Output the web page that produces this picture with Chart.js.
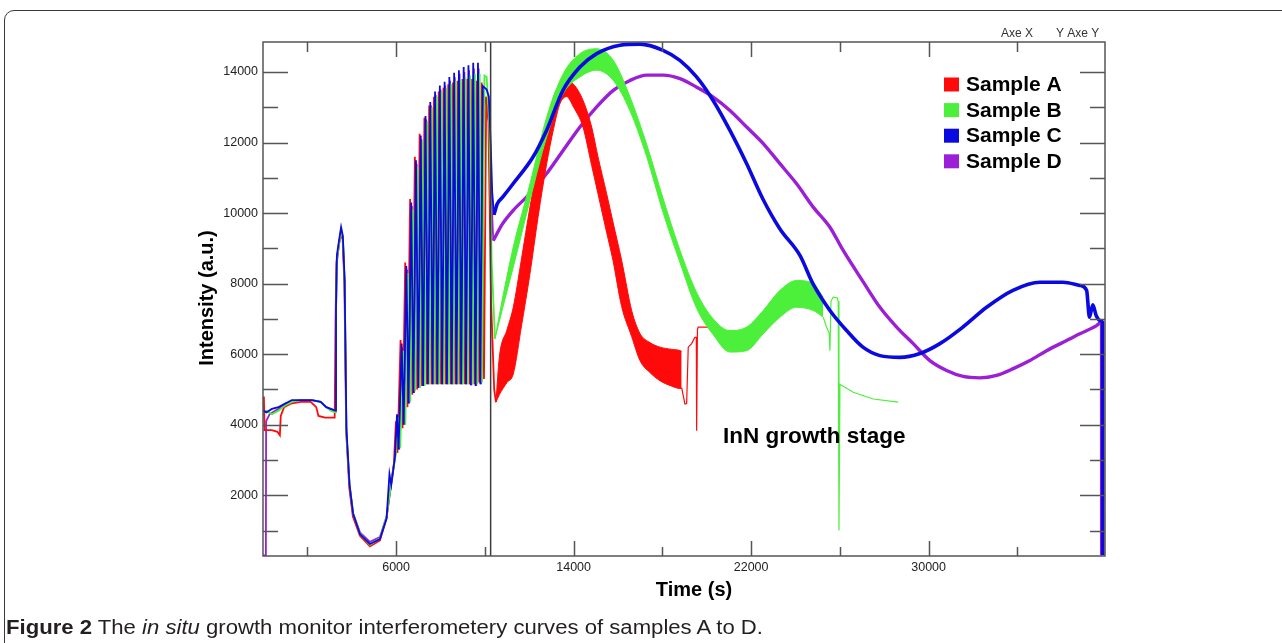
<!DOCTYPE html>
<html>
<head>
<meta charset="utf-8">
<script src="https://cdn.jsdelivr.net/npm/chart.js@4.4.1/dist/chart.umd.min.js"></script>
<style>
html, body { margin: 0; padding: 0; background: #fff; }
#wrap { position: relative; width: 1282px; height: 643px; overflow: hidden; }
#frame { position: absolute; left: 4px; top: 10px; width: 1320px; height: 700px; border: 1.5px solid #3a3a3a; border-radius: 10px; box-sizing: border-box; }
#chartBox { position: absolute; left: 0; top: 0; width: 1282px; height: 643px; }
#caption { position: absolute; left: 6px; top: 616px; font-family: "Liberation Sans Narrow", "Liberation Sans", Arial, sans-serif; font-size: 20px; color: #231f20; white-space: nowrap; transform-origin: left top; }
</style>
</head>
<body>
<div id="wrap">
  <div id="frame"></div>
  <div id="chartBox"><canvas id="chart"></canvas></div>
  <div id="caption"><b>Figure 2</b> The <i>in situ</i> growth monitor interferometery curves of samples A to D.</div>
</div>
<script>
// Подписи и цвета образцов
const sampleNames = ['Sample A', 'Sample B', 'Sample C', 'Sample D'];
const sampleColors = ['#ff0a0a', '#4cf03a', '#0a0ae0', '#9a1fd6'];

// Деления осей
const xTickValues = [2000, 6000, 10000, 14000, 18000, 22000, 26000, 30000, 34000];
const xTickLabels = ['', '6000', '', '14000', '', '22000', '', '30000', ''];
const yTickValues = [1000, 2000, 3000, 4000, 5000, 6000, 7000, 8000, 9000, 10000, 11000, 12000, 13000, 14000];
const yTickLabels = ['', '2000', '', '4000', '', '6000', '', '8000', '', '10000', '', '12000', '', '14000'];

// Граница этапа роста InN
const dividerLine = [[10260, 280], [10260, 14850]];

// Начальный участок + осцилляции (тонкие линии), [время, интенсивность]
const earlyA = [
    [0, 4300], [40, 4800], [70, 3850], [400, 3850], [650, 3800], [760, 3700], [800, 4250], [950, 4500],
    [1250, 4600], [1700, 4650], [2150, 4650], [2400, 4500], [2500, 4250], [2800, 4200], [3230, 4200],
    [3270, 7000], [3310, 8600], [3400, 9000], [3500, 9450], [3590, 9250], [3670, 8000], [3750, 3800],
    [3890, 2200], [4050, 1400], [4370, 850], [4820, 550], [5270, 720], [5570, 1350], [5760, 2300],
    [5900, 2900], [5990, 4100], [6060, 3200], [6200, 6400], [6290, 3900], [6410, 8600], [6510, 4500],
    [6630, 10400], [6730, 4850], [6845, 11600], [6950, 5000], [7060, 12250], [7165, 5100], [7275, 12700],
    [7380, 5150], [7490, 13050], [7595, 5150], [7705, 13300], [7810, 5150], [7920, 13450], [8025, 5150],
    [8135, 13550], [8240, 5150], [8350, 13650], [8455, 5150], [8565, 13700], [8670, 5150], [8780, 13750],
    [8885, 5150], [8995, 13800], [9100, 5150], [9210, 13800], [9315, 5150], [9425, 13800], [9530, 5150],
    [9640, 13750], [9745, 5200], [9855, 13700], [9960, 5300], [10060, 13300], [10160, 12600],
    [10280, 7500], [10420, 5000], [10500, 4640]
];
const earlyB = [
    [0, 4350], [150, 4400], [400, 4300], [700, 4400], [1000, 4550], [1300, 4650], [1700, 4700], [2200, 4700],
    [2600, 4650], [2850, 4500], [3050, 4400], [3260, 4350], [3290, 7200], [3330, 8700], [3420, 9100],
    [3520, 9500], [3600, 9300], [3680, 8000], [3760, 3700], [3900, 2300], [4060, 1480], [4370, 920],
    [4820, 600], [5270, 780], [5570, 1400], [5800, 2450], [5990, 3200],
    [6115, 4200], [6185, 3350], [6325, 6100], [6415, 4000], [6535, 8300], [6635, 4650],
    [6755, 10100], [6855, 4950], [6970, 11300], [7075, 5050], [7185, 12050], [7290, 5100], [7400, 12600],
    [7505, 5150], [7615, 13000], [7720, 5150], [7830, 13300], [7935, 5150], [8045, 13450], [8150, 5150],
    [8260, 13550], [8365, 5150], [8475, 13650], [8580, 5150], [8690, 13750], [8795, 5150], [8905, 13800],
    [9010, 5150], [9120, 13850], [9225, 5150], [9335, 13900], [9440, 5150], [9550, 13950], [9655, 5150],
    [9765, 13950], [9870, 5200], [9980, 13900], [10080, 13860], [10200, 12500], [10305, 8650], [10455, 6440]
];
const earlyC = [
    [0, 4400], [150, 4350], [400, 4450], [700, 4500], [1000, 4600], [1300, 4700], [1700, 4700], [2200, 4700],
    [2600, 4650], [2850, 4500], [3050, 4450], [3250, 4400], [3290, 7300], [3330, 8800], [3420, 9200],
    [3520, 9600], [3600, 9350], [3680, 8100], [3760, 3900], [3900, 2300], [4060, 1480], [4370, 900],
    [4820, 620], [5270, 760], [5570, 1350], [5700, 2600], [5780, 2300], [5950, 3100],
    [6040, 4300], [6110, 3300], [6250, 6300], [6340, 4000], [6460, 8500], [6560, 4600], [6680, 10300],
    [6780, 4900], [6895, 11500], [7000, 5050], [7110, 12200], [7215, 5100], [7325, 12750], [7430, 5150],
    [7540, 13150], [7645, 5150], [7755, 13450], [7860, 5150], [7970, 13620], [8075, 5150], [8185, 13720],
    [8290, 5150], [8400, 13860], [8505, 5150], [8615, 13980], [8720, 5150], [8830, 14050], [8935, 5150],
    [9045, 14140], [9150, 5150], [9260, 14190], [9365, 5120], [9475, 14260], [9580, 5100], [9690, 14260],
    [9795, 5150], [9905, 13600], [10080, 13500], [10180, 13300], [10260, 12000], [10330, 10600], [10410, 9950]
];
const earlyD = [
    [0, 300], [130, 300], [140, 4100], [300, 4300], [700, 4450], [1000, 4600], [1300, 4650], [1700, 4700],
    [2200, 4700], [2600, 4650], [2850, 4500], [3050, 4450], [3250, 4400], [3290, 7200], [3330, 8600],
    [3420, 9100], [3520, 9450], [3600, 9250], [3680, 8000], [3760, 3800], [3900, 2300], [4060, 1500],
    [4370, 950], [4820, 680], [5270, 820], [5570, 1400], [5800, 2400], [5970, 3150],
    [6070, 4250], [6140, 3300], [6280, 6200], [6370, 4000], [6490, 8400], [6590, 4600],
    [6710, 10200], [6810, 4900], [6925, 11400], [7030, 5050], [7140, 12100], [7245, 5100], [7355, 12650],
    [7460, 5150], [7570, 13050], [7675, 5150], [7785, 13350], [7890, 5150], [8000, 13500], [8105, 5150],
    [8215, 13620], [8320, 5150], [8430, 13750], [8535, 5150], [8645, 13850], [8750, 5150], [8860, 13950],
    [8965, 5150], [9075, 14000], [9180, 5150], [9290, 14050], [9395, 5120], [9505, 14100], [9610, 5100],
    [9720, 14100], [9825, 5150], [9935, 13400], [10100, 13000], [10220, 12400], [10300, 10400], [10378, 9220]
];

// Этап роста InN: полосы осцилляций (верх / низ огибающей)
const bandATime = [10500, 10650, 11000, 11280, 11650, 12032, 12400, 12785, 13100, 13384, 13686, 14000, 14421, 14813, 15097, 15489, 15773, 16165, 16616, 16990, 17440, 17891, 18400, 18792, 18869];
const bandAHigh = [4640, 5900, 6700, 7330, 8700, 10170, 11400, 12530, 13300, 13670, 13760, 13650, 13200, 12440, 11600, 10550, 9750, 8660, 7240, 6590, 6330, 6200, 6140, 6105, 6080];
const bandALow = [4640, 4850, 5200, 5440, 6800, 8280, 9900, 11400, 12400, 13100, 13300, 13000, 12440, 11350, 10550, 9450, 8660, 7350, 6500, 5820, 5480, 5250, 5100, 5030, 5030];

const bandBTime = [10455, 10800, 11280, 12032, 12785, 13533, 14286, 15038, 15787, 16539, 17292, 18040, 18792, 19545, 20293, 21045, 21798, 22546, 23299, 24051, 24799, 25250];
const bandBHigh = [6440, 7600, 9040, 10830, 12720, 13950, 14520, 14660, 14330, 13300, 11950, 10400, 8950, 7750, 7000, 6670, 6770, 7240, 7810, 8090, 8000, 7620];
const bandBLow = [6440, 7300, 8470, 10360, 12160, 13390, 13860, 14050, 13760, 12900, 11600, 10000, 8600, 7300, 6550, 6060, 6100, 6580, 7050, 7330, 7240, 7050];

// Хвосты после окончания роста
const tailA = [
    [18869, 5050], [18950, 4800], [19017, 4590], [19094, 4600], [19166, 6200], [19319, 6300], [19468, 6480],
    [19530, 6480], [19545, 3830], [19580, 6700], [19617, 6770], [20293, 6770]
];
const tailB = [
    [25250, 7050], [25380, 6800], [25520, 6600], [25552, 6100], [25600, 7500], [25700, 7620], [25880, 7600],
    [25926, 7500], [25960, 1000], [26003, 5150], [26603, 4920], [27504, 4730], [28630, 4640]
];

// Гладкие кривые C и D (толстые линии)
const lateC = [
    [10410, 9950], [10550, 10250], [10800, 10450], [11280, 10840], [12170, 11590], [12785, 12350], [13520, 13480],
    [14285, 14140], [15040, 14520], [16090, 14760], [16990, 14790], [18030, 14615], [18790, 14330], [19540, 13860],
    [20280, 13200], [21045, 12345], [21800, 11400], [22530, 10400], [23300, 9550], [24200, 8800], [24786, 8000],
    [25552, 7240], [26305, 6670], [27039, 6200], [27805, 5960], [28706, 5910], [29608, 6020], [30509, 6300],
    [31546, 6770], [32614, 7330], [33800, 7810], [35016, 8040], [36052, 8040], [36818, 7950], [37120, 7810],
    [37250, 7050], [37400, 7400], [37550, 7100], [37760, 6950], [37840, 6900], [37850, 300]
];
const lateD = [
    [10378, 9220], [10800, 9700], [11280, 10080], [12032, 10550], [12785, 11120], [13533, 11780], [14286, 12440],
    [15038, 13010], [15787, 13480], [16539, 13760], [17292, 13910], [18040, 13910], [18792, 13810], [19545, 13570],
    [20293, 13290], [21045, 12910], [21798, 12440], [22546, 11970], [23299, 11400], [24051, 10830], [24799, 10170],
    [25552, 9600], [26150, 8940], [27053, 8050], [27805, 7330], [28558, 6770], [29306, 6300], [30058, 5820],
    [30811, 5540], [31559, 5370], [32312, 5330], [33064, 5400], [33813, 5590], [34565, 5820], [35318, 6100],
    [36066, 6340], [36818, 6580], [37571, 6810], [37796, 6910], [37800, 300]
];

const toPoints = arr => arr.map(([x, y]) => ({x, y}));
const zipBand = (t, v) => t.map((x, i) => ({x, y: v[i]}));

function lineSet(data, color, width, order, smooth) {
    return {
        data, borderColor: color, backgroundColor: color, borderWidth: width, order, fill: false,
        cubicInterpolationMode: smooth ? 'monotone' : 'default'
    };
}

const datasets = [
    lineSet(toPoints(dividerLine), '#3c3c3c', 1.5, 0),
    lineSet(toPoints(earlyC), sampleColors[2], 1.8, 1),
    lineSet(toPoints(earlyB), sampleColors[1], 1.8, 2),
    lineSet(toPoints(earlyA), sampleColors[0], 1.8, 3),
    lineSet(toPoints(earlyD), sampleColors[3], 1.8, 4),
    lineSet(toPoints(lateC), sampleColors[2], 3.6, 5, true),
    // полоса B
    lineSet(zipBand(bandBTime, bandBHigh), sampleColors[1], 1, 6, true),
    Object.assign(lineSet(zipBand(bandBTime, bandBLow), sampleColors[1], 1, 7, true), {fill: '-1'}),
    lineSet(toPoints(tailB), sampleColors[1], 1.2, 8),
    // полоса A
    lineSet(zipBand(bandATime, bandAHigh), sampleColors[0], 1, 9, true),
    Object.assign(lineSet(zipBand(bandATime, bandALow), sampleColors[0], 1, 10, true), {fill: '-1'}),
    lineSet(toPoints(tailA), sampleColors[0], 1.2, 11),
    lineSet(toPoints(lateD), sampleColors[3], 3.4, 12, true)
];

const FONT = '"Liberation Sans", Arial, sans-serif';

// Рамка, внутренние деления, легенда и подписи
const overlay = {
    id: 'overlay',
    afterDatasetsDraw(chart) {
        const {ctx, chartArea: a, scales: {x, y}} = chart;
        ctx.save();
        ctx.strokeStyle = '#555';
        ctx.lineWidth = 1.5;
        ctx.strokeRect(a.left, a.top, a.right - a.left, a.bottom - a.top);

        ctx.beginPath();
        xTickValues.forEach((v, i) => {
            const px = Math.round(x.getPixelForValue(v)) + 0.5;
            const major = xTickLabels[i] !== '';
            ctx.moveTo(px, a.bottom); ctx.lineTo(px, a.bottom - (major ? 15 : 9));
            ctx.moveTo(px, a.top); ctx.lineTo(px, a.top + (major ? 15 : 10));
        });
        yTickValues.forEach((v, i) => {
            const py = Math.round(y.getPixelForValue(v)) + 0.5;
            const len = yTickLabels[i] !== '' ? 25 : 15;
            ctx.moveTo(a.left, py); ctx.lineTo(a.left + len, py);
            ctx.moveTo(a.right, py); ctx.lineTo(a.right - len, py);
        });
        ctx.stroke();

        // легенда
        ctx.textBaseline = 'middle';
        ctx.textAlign = 'left';
        sampleNames.forEach((name, i) => {
            const cy = 84.5 + i * 25.6;
            ctx.fillStyle = sampleColors[i];
            ctx.fillRect(944, cy - 7, 15, 14);
            ctx.fillStyle = '#000';
            ctx.font = 'bold 21px ' + FONT;
            ctx.fillText(name, 966, cy + 1);
        });

        ctx.fillStyle = '#000';
        ctx.font = 'bold 22.5px ' + FONT;
        ctx.fillText('InN growth stage', 723, 437);

        ctx.fillStyle = '#333';
        ctx.font = '12px ' + FONT;
        ctx.fillText('Axe X', 1001, 34);
        ctx.fillText('Y Axe Y', 1056, 34);

        // подписи осей
        ctx.fillStyle = '#000';
        ctx.font = 'bold 20px ' + FONT;
        ctx.textAlign = 'center';
        ctx.fillText('Time (s)', 694, 590);
        ctx.translate(207, 298);
        ctx.rotate(-Math.PI / 2);
        ctx.fillText('Intensity (a.u.)', 0, 0);
        ctx.restore();
    }
};

new Chart(document.getElementById('chart'), {
    type: 'line',
    data: {datasets},
    options: {
        animation: false,
        responsive: true,
        maintainAspectRatio: false,
        layout: {padding: {left: 200, top: 42, right: 177, bottom: 57}},
        plugins: {legend: {display: false}, tooltip: {enabled: false}},
        elements: {point: {radius: 0}, line: {tension: 0}},
        scales: {
            x: {
                type: 'linear', min: 0, max: 37950,
                grid: {display: false, drawTicks: false}, border: {display: false},
                afterBuildTicks: s => { s.ticks = xTickValues.map(v => ({value: v})); },
                afterFit: s => { s.height = 30; },
                ticks: {
                    autoSkip: false, maxRotation: 0, padding: 4, color: '#222',
                    font: {family: FONT, size: 12.5},
                    callback: (v, i) => xTickLabels[i]
                }
            },
            y: {
                type: 'linear', min: 280, max: 14850,
                grid: {display: false, drawTicks: false}, border: {display: false},
                afterBuildTicks: s => { s.ticks = yTickValues.map(v => ({value: v})); },
                afterFit: s => { s.width = 63; },
                ticks: {
                    autoSkip: false, padding: 5, color: '#222',
                    font: {family: FONT, size: 12.5},
                    callback: (v, i) => yTickLabels[i]
                }
            }
        }
    },
    plugins: [overlay]
});

// подгонка ширины подписи под оригинал
const cap = document.getElementById('caption');
const w = cap.getBoundingClientRect().width;
cap.style.transform = 'scaleX(' + (757 / w) + ')';
</script>
</body>
</html>
